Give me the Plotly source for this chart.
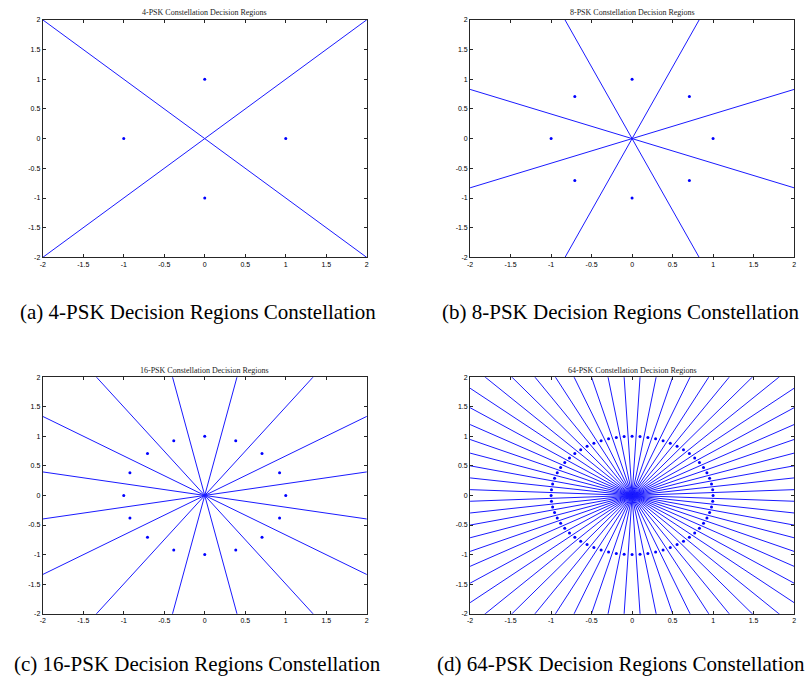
import numpy as np
import plotly.graph_objects as go

# PSK orders shown in the four panels
psk_orders = [4, 8, 16, 64]
panel_titles = ["4-PSK Constellation Decision Regions",
                "8-PSK Constellation Decision Regions",
                "16-PSK Constellation Decision Regions",
                "64-PSK Constellation Decision Regions"]
captions = ["(a) 4-PSK Decision Regions Constellation",
            "(b) 8-PSK Decision Regions Constellation",
            "(c) 16-PSK Decision Regions Constellation",
            "(d) 64-PSK Decision Regions Constellation"]
tick_vals = [-2, -1.5, -1, -0.5, 0, 0.5, 1, 1.5, 2]
tick_text = ["-2", "-1.5", "-1", "-0.5", "0", "0.5", "1", "1.5", "2"]
symbol_radius = 1.0
boundary_length = 3.0

W, H = 809, 688
# pixel boxes of plot areas: (left, right, top, bottom)
boxes = [(40, 366, 16, 256), (470, 796, 16, 256),
         (40, 366, 377, 616), (470, 796, 377, 616)]
caption_pos = [(196, 311), (621, 311), (196, 667), (622, 667)]

fig = go.Figure()
annotations = []
for i, M in enumerate(psk_orders):
    k = np.arange(M)
    ang_pts = 2 * np.pi * k / M
    px = symbol_radius * np.cos(ang_pts)
    py = symbol_radius * np.sin(ang_pts)
    ang_b = (2 * k + 1) * np.pi / M
    lx, ly = [], []
    for a in ang_b:
        lx += [0, boundary_length * np.cos(a), None]
        ly += [0, boundary_length * np.sin(a), None]
    xa = "x" if i == 0 else f"x{i+1}"
    ya = "y" if i == 0 else f"y{i+1}"
    fig.add_trace(go.Scatter(x=lx, y=ly, mode="lines", xaxis=xa, yaxis=ya,
                             line=dict(color="#1a1aff", width=1), showlegend=False,
                             hoverinfo="skip"))
    fig.add_trace(go.Scatter(x=px, y=py, mode="markers", xaxis=xa, yaxis=ya,
                             marker=dict(color="#0000ff", size=3), showlegend=False))
    l, r, t, b = boxes[i]
    axcommon = dict(range=[-2, 2], tickvals=tick_vals, ticktext=tick_text,
                    ticks="inside", ticklen=3, tickcolor="#262626", mirror="ticks",
                    showline=True, linecolor="#262626", linewidth=1, showgrid=False,
                    zeroline=False, tickfont=dict(family="Liberation Sans", size=7, color="black"))
    xkey = "xaxis" if i == 0 else f"xaxis{i+1}"
    ykey = "yaxis" if i == 0 else f"yaxis{i+1}"
    fig.update_layout(**{
        xkey: dict(domain=[l / W, r / W], anchor=ya, **axcommon),
        ykey: dict(domain=[1 - b / H, 1 - t / H], anchor=xa, **axcommon),
    })
    annotations.append(dict(text=panel_titles[i], x=(l + r) / 2 / W, y=1 - (t - 7) / H,
                            xref="paper", yref="paper", showarrow=False,
                            font=dict(family="Liberation Serif", size=8, color="#222222"),
                            xanchor="center", yanchor="middle"))
    cx, cy = caption_pos[i]
    annotations.append(dict(text=captions[i], x=cx / W, y=1 - cy / H,
                            xref="paper", yref="paper", showarrow=False,
                            font=dict(family="Liberation Serif", size=21, color="black"),
                            xanchor="center", yanchor="middle"))

fig.update_layout(width=W, height=H, margin=dict(l=0, r=0, t=0, b=0),
                  plot_bgcolor="white", paper_bgcolor="white",
                  annotations=annotations)
fig.write_html("out.html", config={"displayModeBar": False},
               post_script="document.body.style.margin='0';document.body.style.overflow='hidden';")
